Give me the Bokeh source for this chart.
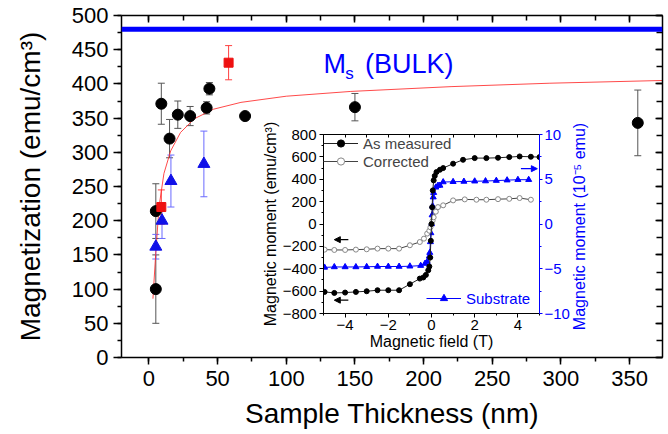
import math
from bokeh.plotting import figure
from bokeh.models import (Range1d, LinearAxis, SingleIntervalTicker, Whisker, ColumnDataSource,
                          Label, Arrow, NormalHead, Legend, LegendItem, TeeHead, Span)
from bokeh.embed import file_html
from bokeh.resources import INLINE

FONT = "Liberation Sans"
BLUE = "#0000ff"

# ---------------- main chart data ----------------
circ_t = [5, 5, 9, 15, 21, 30, 42, 44, 70, 150, 356]
circ_m = [100, 214, 371, 320, 355, 353, 365, 393, 353, 366, 343]
circ_e = [50, 40, 30, 28, 20, 14, 9, 9, 0, 20, 48]

tri_t = [5, 9.5, 16, 40]
tri_m = [162, 200, 258, 283]
tri_e = [18, 26, 38, 48]

sq_t = [9, 58]
sq_m = [220, 431]
sq_e = [25, 25]

fit_t = [2.9, 4.9, 7.3, 10.9, 15.8, 23, 33, 47, 67, 100, 147, 220, 292, 374]
fit_m = [86, 151, 220, 269, 302, 329, 349, 363, 373, 382, 389, 396, 401, 405]

ms_bulk = 480

# ---------------- inset data ----------------
meas_h = [-4.95, -4.5, -4.0, -3.5, -3.0, -2.5, -2.0, -1.5, -1.0, -0.54, -0.38, -0.26, -0.15, -0.1,
          -0.06, -0.03, 0, 0.03, 0.06, 0.1, 0.15, 0.23, 0.39, 0.54, 1.0, 1.46, 2.0, 2.54, 3.08,
          3.6, 4.08, 4.6, 5.0]
meas_m = [-607, -616, -613, -607, -601, -592, -592, -592, -538, -488, -478, -455, -413, -380,
          -300, -150, 0, 150, 300, 390, 430, 464, 485, 500, 539, 574, 589, 589, 592,
          598, 604, 601, 598]

corr_h = [-4.95, -4.5, -4.0, -3.5, -3.0, -2.5, -2.0, -1.5, -1.0, -0.54, -0.35, -0.2, -0.1, -0.05,
          0, 0.05, 0.1, 0.2, 0.3, 0.54, 1.0, 1.54, 2.08, 2.54, 3.08, 3.6, 4.08, 4.6]
corr_m = [-229, -232, -232, -229, -226, -220, -220, -220, -190, -161, -131, -86, -60, -30,
          0, 30, 60, 110, 151, 167, 211, 220, 217, 217, 222, 225, 232, 217]

sub_h = [-4.95, -4.5, -4.0, -3.5, -3.0, -2.5, -2.0, -1.5, -1.0, -0.5, -0.3, -0.2, -0.1, -0.08,
         -0.05, -0.03, 0, 0.03, 0.05, 0.08, 0.1, 0.2, 0.3, 0.39, 0.54, 1.0, 1.5, 2.0, 2.5, 3.0,
         3.5, 4.0, 4.5]
sub_m = [-4.85, -4.8, -4.8, -4.8, -4.78, -4.75, -4.75, -4.75, -4.72, -4.65, -4.42, -4.2, -3.6, -3.2,
         -2.0, -1.0, 0, 1.0, 2.0, 3.0, 3.5, 4.1, 4.3, 4.31, 4.69, 4.72, 4.75, 4.78, 4.8, 4.85,
         4.9, 4.95, 4.95]

# ================= main figure =================
p = figure(width=668, height=434, x_range=Range1d(-20, 374), y_range=Range1d(0, 500),
           output_backend="svg", toolbar_location=None,
           min_border_left=121, min_border_right=6, min_border_top=15, min_border_bottom=77)
p.xgrid.visible = False
p.ygrid.visible = False
p.outline_line_color = None
p.background_fill_color = "white"


def style_axis(ax, font_px, lab_px):
    ax.axis_label_text_font = FONT
    ax.axis_label_text_font_style = "normal"
    ax.axis_label_text_font_size = lab_px
    ax.major_label_text_font = FONT
    ax.major_label_text_font_size = font_px
    ax.axis_label_text_color = "black"
    ax.major_label_text_color = "black"


def tick_only_axis(ticker, tin, minor_in, **kw):
    return LinearAxis(ticker=ticker, major_label_text_font_size="0px",
                      major_label_text_color=None, major_label_standoff=0,
                      major_tick_in=tin, major_tick_out=0,
                      minor_tick_in=minor_in, minor_tick_out=0, **kw)


xb = p.xaxis[0]
xb.ticker = SingleIntervalTicker(interval=50, num_minor_ticks=2)
xb.axis_label = "Sample Thickness (nm)"
style_axis(xb, "22px", "28px")
xb.major_tick_out = 7
xb.major_tick_in = 0
xb.minor_tick_out = 4
xb.minor_tick_in = 0
xb.major_label_standoff = 6
xb.axis_label_standoff = 9

yl = p.yaxis[0]
yl.ticker = SingleIntervalTicker(interval=50, num_minor_ticks=2)
yl.axis_label = "Magnetization (emu/cm³)"
style_axis(yl, "22px", "28px")
yl.major_tick_out = 8
yl.major_tick_in = 0
yl.minor_tick_out = 4
yl.minor_tick_in = 0
yl.major_label_standoff = 5
yl.axis_label_standoff = 23

xt = tick_only_axis(SingleIntervalTicker(interval=50, num_minor_ticks=2), 7, 5)
p.add_layout(xt, "above")
yr = tick_only_axis(SingleIntervalTicker(interval=50, num_minor_ticks=2), 7, 6)
p.add_layout(yr, "right")

for ax in [xb, yl, xt, yr]:
    ax.axis_line_width = 1.5
    ax.major_tick_line_width = 1.5
    ax.minor_tick_line_width = 1.5
    ax.axis_line_color = "black"

p.add_layout(Span(location=ms_bulk, dimension="width", line_color=BLUE, line_width=5))

p.line(fit_t, fit_m, line_color="#ff2a2a", line_width=1, line_alpha=0.85)

src_c = ColumnDataSource(dict(x=circ_t, y=circ_m,
                              lo=[m - e for m, e in zip(circ_m, circ_e)],
                              hi=[m + e for m, e in zip(circ_m, circ_e)]))
src_t = ColumnDataSource(dict(x=tri_t, y=tri_m,
                              lo=[m - e for m, e in zip(tri_m, tri_e)],
                              hi=[m + e for m, e in zip(tri_m, tri_e)]))
src_s = ColumnDataSource(dict(x=sq_t, y=sq_m,
                              lo=[m - e for m, e in zip(sq_m, sq_e)],
                              hi=[m + e for m, e in zip(sq_m, sq_e)]))

for src, col in [(src_c, "#555555"), (src_t, "#6a6aff"), (src_s, "#ff4040")]:
    p.add_layout(Whisker(source=src, base="x", upper="hi", lower="lo",
                         line_color=col, line_width=1,
                         upper_head=TeeHead(size=7, line_color=col, line_width=1),
                         lower_head=TeeHead(size=7, line_color=col, line_width=1)))

p.scatter("x", "y", source=src_c, marker="circle", size=11, fill_color="black", line_color="black")
p.scatter("x", "y", source=src_t, marker="triangle", size=12, fill_color="#1010e8", line_color="#1010e8")
p.scatter("x", "y", source=src_s, marker="square", size=9, fill_color="#ee1111", line_color="#ee1111")

p.add_layout(Label(x=127.2, y=429.4, text="M", text_font=FONT, text_font_size="27px",
                   text_color=BLUE, text_baseline="alphabetic"))
p.add_layout(Label(x=143.0, y=414.8, text="s", text_font=FONT, text_font_size="17px",
                   text_color=BLUE, text_baseline="alphabetic"))
p.add_layout(Label(x=157.4, y=429.4, text="(BULK)", text_font=FONT, text_font_size="27px",
                   text_color=BLUE, text_baseline="alphabetic"))

# title of the inset's right-hand axis (sits in the inset's transparent border)
p.add_layout(Label(x=313.6, y=191.5, text="Magnetic moment (10⁻⁵ emu)",
                   angle=math.pi / 2, text_align="center", text_baseline="middle",
                   text_font=FONT, text_font_size="16px", text_color=BLUE))

# ================= inset figure =================
q = figure(width=334, height=235, x_range=Range1d(-5, 5), y_range=Range1d(-800, 800),
           output_backend="svg", toolbar_location=None,
           min_border_left=62, min_border_right=53, min_border_top=13, min_border_bottom=43)
q.extra_y_ranges = {"sub": Range1d(-10, 10)}
q.styles = {"position": "absolute", "left": "258px", "top": "121px"}
q.xgrid.visible = False
q.ygrid.visible = False
q.outline_line_color = None
q.border_fill_color = None

qx = q.xaxis[0]
qx.ticker = SingleIntervalTicker(interval=2, num_minor_ticks=2)
qx.axis_label = "Magnetic field (T)"
style_axis(qx, "15px", "16px")
qx.major_tick_out = 4
qx.major_tick_in = 0
qx.minor_tick_out = 2
qx.minor_tick_in = 0
qx.major_label_standoff = 2
qx.axis_label_standoff = 0

qy = q.yaxis[0]
qy.ticker = SingleIntervalTicker(interval=200, num_minor_ticks=2)
qy.axis_label = "Magnetic moment (emu/cm³)"
style_axis(qy, "15px", "16px")
qy.major_tick_out = 4
qy.major_tick_in = 0
qy.minor_tick_out = 2
qy.minor_tick_in = 0
qy.major_label_standoff = 3
qy.axis_label_standoff = 1

qt = tick_only_axis(SingleIntervalTicker(interval=1, num_minor_ticks=0), 3, 0)
q.add_layout(qt, "above")

qr = LinearAxis(y_range_name="sub", ticker=SingleIntervalTicker(interval=5, num_minor_ticks=2))
style_axis(qr, "15px", "16px")
qr.major_label_text_color = BLUE
qr.axis_line_color = BLUE
qr.major_tick_line_color = BLUE
qr.minor_tick_line_color = BLUE
qr.major_tick_out = 3
qr.major_tick_in = 0
qr.minor_tick_out = 2
qr.minor_tick_in = 0
qr.major_label_standoff = 2
q.add_layout(qr, "right")

for ax in [qx, qy, qt]:
    ax.axis_line_color = "black"
    ax.axis_line_width = 1
qr.axis_line_width = 1

l_sub = q.line(sub_h, sub_m, y_range_name="sub", line_color=BLUE, line_width=1)
s_sub = q.scatter(sub_h, sub_m, y_range_name="sub", marker="triangle", size=6,
                  fill_color=BLUE, line_color=BLUE)
l_corr = q.line(corr_h, corr_m, line_color="#444444", line_width=1)
s_corr = q.scatter(corr_h, corr_m, marker="circle", size=5, fill_color="white",
                   line_color="#888888", line_width=1)
l_meas = q.line(meas_h, meas_m, line_color="#222222", line_width=1)
s_meas = q.scatter(meas_h, meas_m, marker="circle", size=5, fill_color="black", line_color="black")

leg1 = Legend(items=[LegendItem(label="As measured", renderers=[l_meas, s_meas]),
                     LegendItem(label="Corrected", renderers=[l_corr, s_corr])],
              location="top_left", margin=0, padding=2, spacing=0,
              label_text_font=FONT, label_text_font_size="15px", label_standoff=5,
              glyph_width=35, glyph_height=18, label_height=18,
              background_fill_alpha=0, border_line_color=None)
q.add_layout(leg1)
leg2 = Legend(items=[LegendItem(label="Substrate", renderers=[l_sub, s_sub])],
              location=(103, 6), margin=0, padding=2, spacing=0,
              label_text_font=FONT, label_text_font_size="15px", label_standoff=5,
              label_text_color=BLUE,
              glyph_width=35, glyph_height=18, label_height=18,
              background_fill_alpha=0, border_line_color=None)
q.add_layout(leg2)

q.add_layout(Arrow(end=NormalHead(size=6, fill_color="black", line_color="black"),
                   x_start=-3.85, y_start=-140, x_end=-4.5, y_end=-140, line_width=1.2))
q.add_layout(Arrow(end=NormalHead(size=6, fill_color="black", line_color="black"),
                   x_start=-3.85, y_start=-681, x_end=-4.5, y_end=-681, line_width=1.2))
q.add_layout(Arrow(end=NormalHead(size=6, fill_color=BLUE, line_color=BLUE),
                   x_start=4.14, y_start=6.18, x_end=4.9, y_end=6.18, line_width=1.2,
                   line_color=BLUE, y_range_name="sub"))

open("out.html", "w").write(file_html([p, q], INLINE))
